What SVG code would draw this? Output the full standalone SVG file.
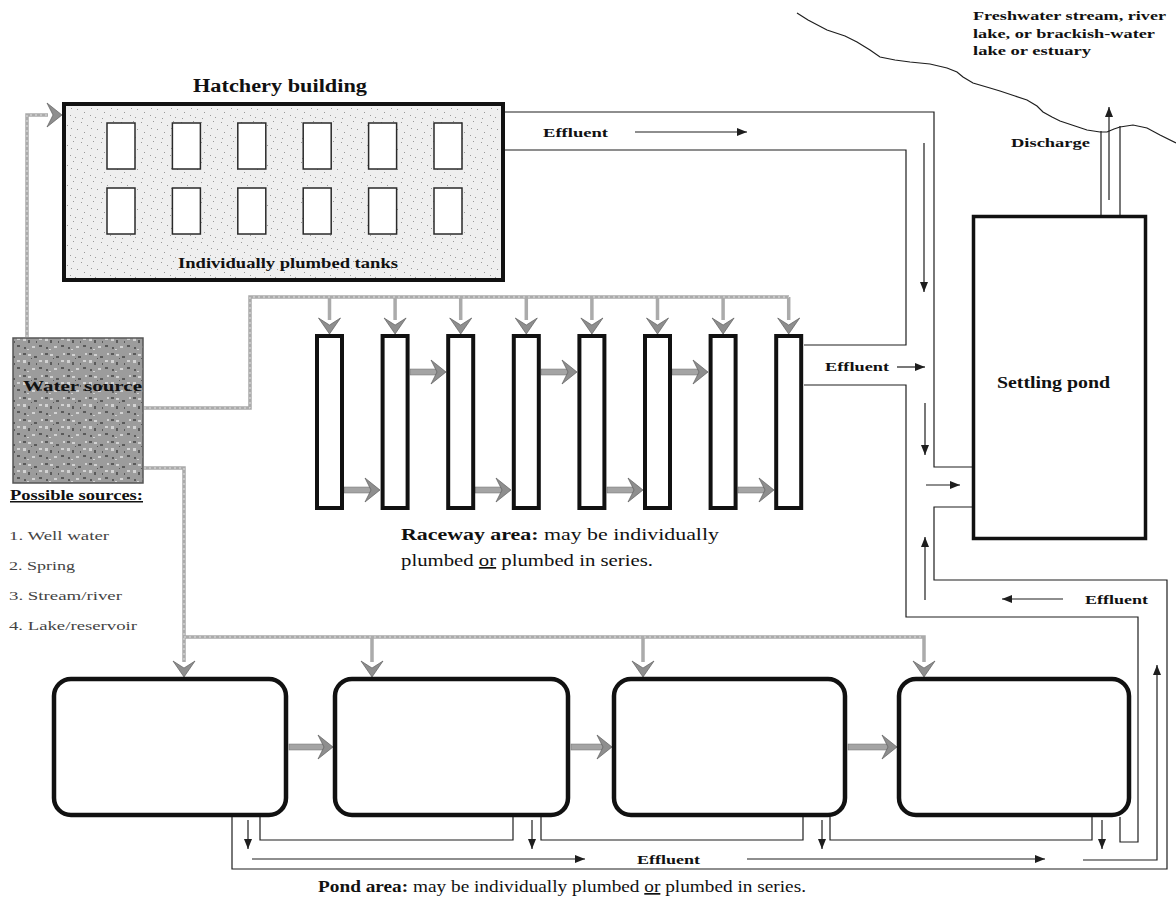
<svg xmlns="http://www.w3.org/2000/svg" width="1176" height="899" viewBox="0 0 1176 899">
<style>
.ln{fill:none;stroke:#1e1e1e;stroke-width:1.2}
.ar{fill:none;stroke:#1e1e1e;stroke-width:1.2;marker-end:url(#ah)}
.pipe{fill:none;stroke:#ababab;stroke-width:3.5}
.pipec{fill:none;stroke:#e2e2e2;stroke-width:1;stroke-dasharray:2 3}
.gh{fill:#8e8e8e;stroke:#5e5e5e;stroke-width:0.7}
.shaft{fill:#a4a4a4;stroke:#707070;stroke-width:0.5}
.tank{fill:#ffffff;stroke:#2a2a2a;stroke-width:1.5}
.rw{fill:#ffffff;stroke:#111;stroke-width:4}
.pond{fill:#ffffff;stroke:#111;stroke-width:4.5}
.t{font-family:"Liberation Serif","Times New Roman",serif;fill:#111}
.b{font-weight:bold}
.src{fill:#444}
</style>
<defs>
<marker id="ah" viewBox="0 0 10 8" refX="10" refY="4" markerWidth="10" markerHeight="8" orient="auto" markerUnits="userSpaceOnUse">
<path d="M0,0 L10,4 L0,8 Z" fill="#1e1e1e"/>
</marker>
<path id="gDown" class="gh" d="M0,0 L-11,-16 L0,-9 L11,-16 Z"/>
<path id="gRight" class="gh" d="M0,0 L-15,-12 L-9,0 L-15,12 Z"/>
<pattern id="pLight" width="20" height="20" patternUnits="userSpaceOnUse">
<rect width="20" height="20" fill="#efefef"/>
<g fill="#9a9a9a">
<rect x="1" y="2" width="1" height="1"/><rect x="7" y="5" width="1" height="1"/><rect x="13" y="1" width="1" height="1"/><rect x="17" y="9" width="1" height="1"/><rect x="4" y="12" width="1" height="1"/><rect x="10" y="15" width="1" height="1"/><rect x="15" y="17" width="1" height="1"/><rect x="2" y="18" width="1" height="1"/><rect x="11" y="8" width="1" height="1"/>
</g>
</pattern>
<pattern id="pDark" width="22" height="22" patternUnits="userSpaceOnUse">
<rect width="22" height="22" fill="#9c9c9c"/>
<g fill="#5a5a5a"><rect x="1" y="1" width="3" height="2"/><rect x="12" y="4" width="3" height="2"/><rect x="6" y="10" width="2" height="3"/><rect x="17" y="15" width="3" height="2"/><rect x="9" y="6" width="1" height="1"/><rect x="2" y="17" width="2" height="2"/><rect x="14" y="11" width="1" height="2"/></g>
<g fill="#d2d2d2"><rect x="6" y="2" width="3" height="2"/><rect x="17" y="8" width="3" height="2"/><rect x="1" y="8" width="3" height="3"/><rect x="10" y="16" width="3" height="2"/><rect x="19" y="1" width="2" height="2"/><rect x="5" y="19" width="2" height="1"/></g>
</pattern>
</defs>
<rect width="1176" height="899" fill="#ffffff"/>

<path id="shoreline" class="ln" stroke-width="1" d="M797,13 L808,20 L827,30 L845,36 L857,42 L870,50 L880,57 L895,60 L910,62 L930,64 L947,68 L957,72 L963,77 L973,83 L990,88 L1000,91 L1015,96 L1027,100 L1037,106 L1043,112 L1052,117 L1060,121 L1075,126 L1087,130 L1100,132 L1107,132 L1114,129 L1120,127 L1133,125 L1147,128 L1160,135 L1176,143"/>

<g id="connectors">
<path class="pipe" d="M27,337 V115 H48"/>
<path class="pipe" d="M144,408 H250 V297 H789"/>
<path class="pipe" d="M329.5,297 V320 M395.1,297 V320 M460.7,297 V320 M526.3,297 V320 M591.9,297 V320 M657.5,297 V320 M723.1,297 V320 M788.7,297 V320"/>
<path class="pipe" d="M144,468 H184 V662 M184,637 H924 V662 M372,637 V662 M643,637 V662"/>
<path class="pipec" d="M27,337 V115 H48 M144,408 H250 V297 H789 M144,468 H184 V662 M184,637 H924"/>
<use href="#gRight" x="62" y="115"/>
<use href="#gDown" x="329.5" y="334"/><use href="#gDown" x="395.1" y="334"/><use href="#gDown" x="460.7" y="334"/><use href="#gDown" x="526.3" y="334"/>
<use href="#gDown" x="591.9" y="334"/><use href="#gDown" x="657.5" y="334"/><use href="#gDown" x="723.1" y="334"/><use href="#gDown" x="788.7" y="334"/>
<use href="#gDown" x="184" y="677"/><use href="#gDown" x="372" y="677"/><use href="#gDown" x="643" y="677"/><use href="#gDown" x="924" y="677"/>
<rect class="shaft" x="410" y="369" width="28" height="6"/><use href="#gRight" x="446" y="372"/>
<rect class="shaft" x="541" y="369" width="28" height="6"/><use href="#gRight" x="577" y="372"/>
<rect class="shaft" x="672" y="369" width="28" height="6"/><use href="#gRight" x="708" y="372"/>
<rect class="shaft" x="344" y="487" width="28" height="6"/><use href="#gRight" x="380" y="490"/>
<rect class="shaft" x="475" y="487" width="28" height="6"/><use href="#gRight" x="511" y="490"/>
<rect class="shaft" x="607" y="487" width="28" height="6"/><use href="#gRight" x="643" y="490"/>
<rect class="shaft" x="738" y="487" width="28" height="6"/><use href="#gRight" x="774" y="490"/>
<rect class="shaft" x="289" y="744" width="36" height="6"/><use href="#gRight" x="333" y="747"/>
<rect class="shaft" x="571" y="744" width="33" height="6"/><use href="#gRight" x="612" y="747"/>
<rect class="shaft" x="848" y="744" width="41" height="6"/><use href="#gRight" x="897" y="747"/>

<path class="ln" d="M505,112 H934 V467 H972"/>
<path class="ln" d="M505,150 H906 V345 H804"/>
<path class="ln" d="M804,385 H906 V617 H1138 V842 H1120 V817"/>
<path class="ln" d="M972,507 H934 V580 H1167 V869 H232 V817"/>
<path class="ln" d="M260,817 V840 H513 V817"/>
<path class="ln" d="M541,817 V840 H803 V817"/>
<path class="ln" d="M830,817 V840 H1092 V817"/>
<path class="ln" d="M1101,215 V131 M1120,215 V126"/>

<path class="ar" d="M635,132 H747"/>
<path class="ar" d="M924,143 V292"/>
<path class="ar" d="M897,367 H925"/>
<path class="ar" d="M925,403 V455"/>
<path class="ar" d="M926,485 H960"/>
<path class="ar" d="M925,600 V537"/>
<path class="ar" d="M1063,599 H1002"/>
<path class="ar" d="M1109,200 V107"/>
<path class="ar" d="M252,859 H585"/>
<path class="ar" d="M747,859 H1045"/>
<path class="ar" d="M1083,860 H1157 V665"/>
<path class="ar" d="M248,820 V849"/>
<path class="ar" d="M532,820 V849"/>
<path class="ar" d="M822,820 V849"/>
<path class="ar" d="M1102,820 V849"/>
</g>

<g id="hatchery">
<text class="t b" x="193" y="92" font-size="18" textLength="174" lengthAdjust="spacingAndGlyphs">Hatchery building</text>
<rect x="64" y="104" width="439" height="176" fill="url(#pLight)" stroke="#111" stroke-width="4"/>
<rect class="tank" x="107" y="123" width="28" height="46"/><rect class="tank" x="172.4" y="123" width="28" height="46"/><rect class="tank" x="237.8" y="123" width="28" height="46"/>
<rect class="tank" x="303.2" y="123" width="28" height="46"/><rect class="tank" x="368.6" y="123" width="28" height="46"/><rect class="tank" x="434" y="123" width="28" height="46"/>
<rect class="tank" x="107" y="188" width="28" height="46"/><rect class="tank" x="172.4" y="188" width="28" height="46"/><rect class="tank" x="237.8" y="188" width="28" height="46"/>
<rect class="tank" x="303.2" y="188" width="28" height="46"/><rect class="tank" x="368.6" y="188" width="28" height="46"/><rect class="tank" x="434" y="188" width="28" height="46"/>
<text class="t b" x="178" y="268" font-size="15" textLength="220" lengthAdjust="spacingAndGlyphs">Individually plumbed tanks</text>
</g>

<g id="water-source">
<rect x="13" y="338" width="130" height="145" fill="url(#pDark)" stroke="#555" stroke-width="1.5"/>
<text class="t b" x="23" y="391" font-size="15" textLength="119" lengthAdjust="spacingAndGlyphs">Water source</text>
</g>

<g id="possible-sources">
<text class="t b" x="10" y="500" font-size="15" textLength="133" lengthAdjust="spacingAndGlyphs" text-decoration="underline">Possible sources:</text>
<text class="t src" x="9" y="540" font-size="13" textLength="100" lengthAdjust="spacingAndGlyphs">1. Well water</text>
<text class="t src" x="9" y="570" font-size="13" textLength="66" lengthAdjust="spacingAndGlyphs">2. Spring</text>
<text class="t src" x="9" y="600" font-size="13" textLength="113" lengthAdjust="spacingAndGlyphs">3. Stream/river</text>
<text class="t src" x="9" y="630" font-size="13" textLength="128" lengthAdjust="spacingAndGlyphs">4. Lake/reservoir</text>
</g>

<g id="raceways">
<rect class="rw" x="317" y="336" width="25" height="172"/>
<rect class="rw" x="382.6" y="336" width="25" height="172"/>
<rect class="rw" x="448.2" y="336" width="25" height="172"/>
<rect class="rw" x="513.8" y="336" width="25" height="172"/>
<rect class="rw" x="579.4" y="336" width="25" height="172"/>
<rect class="rw" x="645" y="336" width="25" height="172"/>
<rect class="rw" x="710.6" y="336" width="25" height="172"/>
<rect class="rw" x="776.2" y="336" width="25" height="172"/>
<text class="t" x="401" y="540" font-size="17" textLength="318" lengthAdjust="spacingAndGlyphs"><tspan font-weight="bold">Raceway area:</tspan> may be individually</text>
<text class="t" x="401" y="566" font-size="17" textLength="252" lengthAdjust="spacingAndGlyphs">plumbed <tspan text-decoration="underline">or</tspan> plumbed in series.</text>
</g>

<g id="settling-pond">
<rect x="973.5" y="216.5" width="172" height="322" fill="#ffffff" stroke="#111" stroke-width="3.5"/>
<text class="t b" x="997" y="388" font-size="16" textLength="113" lengthAdjust="spacingAndGlyphs">Settling pond</text>
</g>

<g id="ponds">
<rect class="pond" x="54" y="679" width="232" height="136" rx="17"/>
<rect class="pond" x="335" y="679" width="233" height="136" rx="17"/>
<rect class="pond" x="614" y="679" width="231" height="136" rx="17"/>
<rect class="pond" x="899" y="679" width="230" height="136" rx="17"/>
<text class="t" x="318" y="892" font-size="17" textLength="488" lengthAdjust="spacingAndGlyphs"><tspan font-weight="bold">Pond area:</tspan> may be individually plumbed <tspan text-decoration="underline">or</tspan> plumbed in series.</text>
</g>

<g id="labels">
<text class="t b" x="543" y="137" font-size="13" textLength="65" lengthAdjust="spacingAndGlyphs">Effluent</text>
<text class="t b" x="825" y="371" font-size="13" textLength="64" lengthAdjust="spacingAndGlyphs">Effluent</text>
<text class="t b" x="1085" y="604" font-size="13" textLength="63" lengthAdjust="spacingAndGlyphs">Effluent</text>
<text class="t b" x="637" y="864" font-size="13" textLength="63" lengthAdjust="spacingAndGlyphs">Effluent</text>
<text class="t b" x="1011" y="147" font-size="13" textLength="79" lengthAdjust="spacingAndGlyphs">Discharge</text>
<text class="t b" x="973" y="20" font-size="12.5" textLength="193" lengthAdjust="spacingAndGlyphs">Freshwater stream, river</text>
<text class="t b" x="973" y="38" font-size="12.5" textLength="182" lengthAdjust="spacingAndGlyphs">lake, or brackish-water</text>
<text class="t b" x="973" y="55" font-size="12.5" textLength="118" lengthAdjust="spacingAndGlyphs">lake or estuary</text>
</g>
</svg>
